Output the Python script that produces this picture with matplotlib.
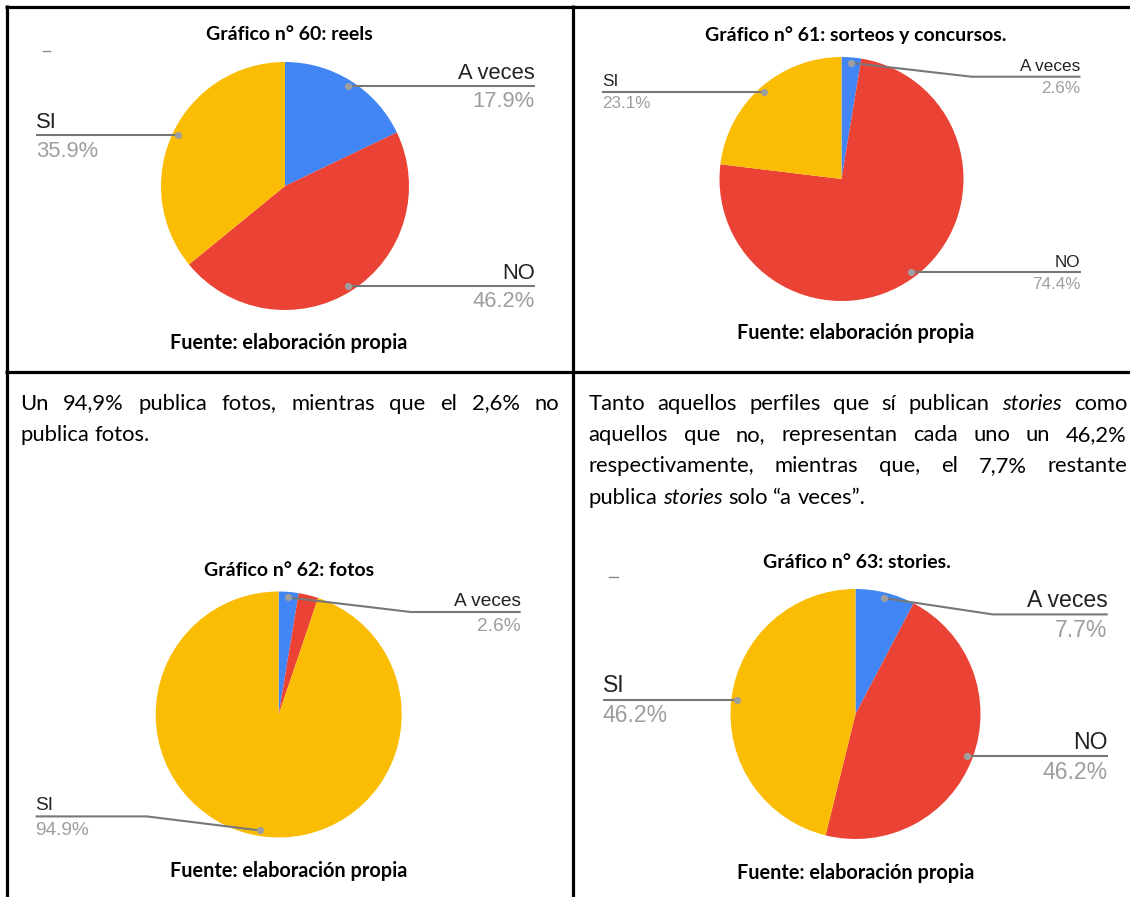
import numpy as np
import matplotlib
matplotlib.use("Agg")
import matplotlib.pyplot as plt

# ---------------------------------------------------------------- data
categories = ["A veces", "NO", "SI"]
slice_colors = ["#4285F4", "#EA4335", "#FBBC04"]

reels_values = [17.9, 46.2, 35.9]
sorteos_values = [2.6, 74.4, 23.1]
fotos_values = [2.6, 2.6, 94.9]
stories_values = [7.7, 46.2, 46.2]

chart_titles = [
    "Gráfico n° 60: reels",
    "Gráfico n° 61: sorteos y concursos.",
    "Gráfico n° 62: fotos",
    "Gráfico n° 63: stories.",
]
source_text = "Fuente: elaboración propia"

# paragraph lines; words wrapped in * are set in italics
fotos_paragraph = [
    "Un 94,9% publica fotos, mientras que el 2,6% no",
    "publica fotos.",
]
stories_paragraph = [
    "Tanto aquellos perfiles que sí publican *stories* como",
    "aquellos que no, representan cada uno un 46,2%",
    "respectivamente, mientras que, el 7,7% restante",
    "publica *stories* solo “a veces”.",
]

# ---------------------------------------------------------------- style
W, H = 1130, 897
DOC_FONT = "Lato"
LABEL_FONT = ["Liberation Sans", "DejaVu Sans"]
NAME_COLOR = "#222222"
PCT_COLOR = "#9e9e9e"
LEADER_COLOR = "#777777"
DOT_COLOR = "#9e9e9e"
TITLE_SIZE = 14.0
SOURCE_SIZE = 14.3
BODY_SIZE = 15.8

fig = plt.figure(figsize=(W / 100, H / 100), dpi=100)
ax = fig.add_axes([0, 0, 1, 1])

# ---------------------------------------------------------------- pies
# Each chart: values, centre (px), radius (px), label font size and the
# placement of every outside label (text edge, optional bent leader).
charts = [
    dict(values=reels_values, center=(285.0, 186.0), radius=124.0, fs=15.8,
         labels={0: dict(side="right", edge=535.0),
                 1: dict(side="right", edge=535.0),
                 2: dict(side="left", edge=36.0)}),
    dict(values=sorteos_values, center=(841.5, 179.0), radius=122.0, fs=12.3,
         labels={0: dict(side="right", edge=1080.5, line_y=76.7, knee=971.5),
                 1: dict(side="right", edge=1080.5),
                 2: dict(side="left", edge=602.0)}),
    dict(values=fotos_values, center=(278.7, 714.5), radius=123.0, fs=13.8,
         labels={0: dict(side="right", edge=520.7, line_y=612.0, knee=410.7),
                 2: dict(side="left", edge=35.6, line_y=816.4, knee=146.7)}),
    dict(values=stories_values, center=(855.5, 714.0), radius=125.0, fs=16.6,
         labels={0: dict(side="right", edge=1107.7, line_y=614.4, knee=992.7),
                 1: dict(side="right", edge=1107.7),
                 2: dict(side="left", edge=602.6)}),
]

for ch in charts:
    cx, cy = ch["center"]
    r = ch["radius"]
    vals = np.asarray(ch["values"], dtype=float)
    # the y axis runs downward, so starting at -90° and turning
    # counter-clockwise in data space opens at 12 o'clock, clockwise on screen
    ax.pie(vals, colors=slice_colors, startangle=-90, counterclock=True,
           center=(cx, cy), radius=r, normalize=True,
           wedgeprops=dict(linewidth=0, antialiased=True))

    fracs = vals / vals.sum()
    mids = np.cumsum(fracs) - fracs / 2
    fs = ch["fs"]
    fs_px = fs * 100 / 72
    for idx, spec in ch["labels"].items():
        theta = 2 * np.pi * mids[idx]
        dx = 0.955 * r * np.sin(theta)
        dy = -0.955 * r * np.cos(theta)
        px, py = cx + dx, cy + dy
        line_y = spec.get("line_y", py)
        knee = spec.get("knee", px)
        edge = spec["edge"]
        ax.plot([px, knee, edge], [py, line_y, line_y], color=LEADER_COLOR,
                lw=1.5, solid_capstyle="butt", zorder=4)
        ax.plot([px], [py], "o", color=DOT_COLOR, ms=5.2, mec="none", zorder=5)
        ha = "right" if spec["side"] == "right" else "left"
        ax.text(edge, line_y - 0.33 * fs_px, categories[idx], ha=ha,
                va="baseline", fontsize=fs, family=LABEL_FONT, color=NAME_COLOR)
        ax.text(edge, line_y + 0.97 * fs_px, f"{vals[idx]:.1f}%", ha=ha,
                va="baseline", fontsize=fs, family=LABEL_FONT, color=PCT_COLOR)

ax.set_aspect("auto")
ax.set_xlim(0, W)
ax.set_ylim(H, 0)
ax.axis("off")

# ---------------------------------------------------------------- titles / sources
title_pos = [(289, 35), (856, 35), (289, 570), (857, 563)]
source_pos = [(289, 343), (856, 333), (289, 871), (856, 873)]
for t, (x, y) in zip(chart_titles, title_pos):
    ax.text(x, y, t, ha="center", va="center", fontsize=TITLE_SIZE,
            family=DOC_FONT, fontweight="bold", color="black")
for (x, y) in source_pos:
    ax.text(x, y, source_text, ha="center", va="center", fontsize=SOURCE_SIZE,
            family=DOC_FONT, fontweight="bold", color="black")

# small stray marks left by the chart exports
ax.plot([43, 50], [50.7, 50.7], color="#8a8a8a", lw=1.0)
ax.plot([609, 618], [577, 577], color="#8a8a8a", lw=1.0)

# ---------------------------------------------------------------- paragraphs
renderer = fig.canvas.get_renderer()


def text_width(s, italic=False):
    t = ax.text(0, 0, s, fontsize=BODY_SIZE, family=DOC_FONT,
                fontstyle="italic" if italic else "normal")
    w = t.get_window_extent(renderer).width
    t.remove()
    return w


space_w = text_width("x x") - text_width("xx")


def draw_paragraph(lines, x0, x1, y0, leading):
    for li, line in enumerate(lines):
        words = []
        for w in line.split(" "):
            italic = w.startswith("*")
            words.append((w.strip("*"), italic))
        widths = [text_width(w, it) for w, it in words]
        last = li == len(lines) - 1
        if last or len(words) == 1:
            gap = space_w
        else:
            gap = (x1 - x0 - sum(widths)) / (len(words) - 1)
        x = x0
        y = y0 + li * leading
        for (w, it), wd in zip(words, widths):
            ax.text(x, y, w, ha="left", va="baseline", fontsize=BODY_SIZE,
                    family=DOC_FONT, fontstyle="italic" if it else "normal",
                    color="black")
            x += wd + gap


draw_paragraph(fotos_paragraph, 20.0, 559.0, 409.5, 31.5)
draw_paragraph(stories_paragraph, 588.5, 1127.0, 409.5, 31.5)

# ---------------------------------------------------------------- table rules
rule = dict(color="black", lw=2.3, solid_capstyle="butt", zorder=10)
ax.plot([5, W], [7, 7], **rule)
ax.plot([6.5, 6.5], [5, H], **rule)
ax.plot([573, 573], [5, H], **rule)
ax.plot([5, W], [372, 372], **rule)

fig.savefig("out.png", dpi=100)
